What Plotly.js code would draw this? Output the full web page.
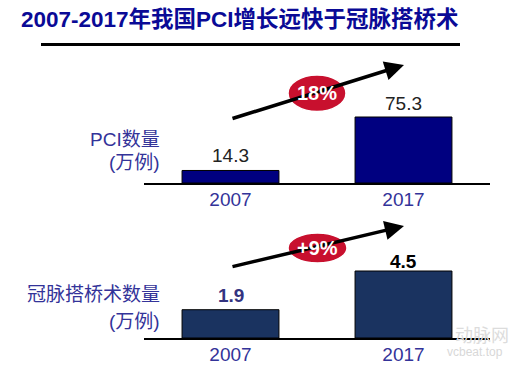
<!DOCTYPE html>
<html>
<head>
<meta charset="utf-8">
<script src="https://cdn.plot.ly/plotly-3.0.1.min.js"></script>
<style>html,body{margin:0;padding:0;background:#fff;}#chart{width:525px;height:371px;}</style>
</head>
<body>
<div id="chart"></div>
<script>
const years = ['2007', '2017'];
const pciValues = [14.3, 75.3];
const cabgValues = [1.9, 4.5];
const pciLabels = ['14.3', '75.3'];
const cabgLabels = ['1.9', '4.5'];
const pciGrowth = '18%';
const cabgGrowth = '+9%';
const titleText = '2007-2017年我国PCI增长远快于冠脉搭桥术';
const pciTitle = ['PCI数量', '(万例)'];
const cabgTitle = ['冠脉搭桥术数量', '(万例)'];

const W = 525, H = 371;
const px = x => x / W;
const py = y => 1 - y / H;
const FONT = '"Liberation Sans", Arial, "Noto Sans CJK SC", sans-serif';

const traces = [
  {type: 'bar', x: years, y: pciValues, xaxis: 'x', yaxis: 'y', width: 0.56,
   marker: {color: '#000080', line: {color: '#000000', width: 1}}, hoverinfo: 'none'},
  {type: 'bar', x: years, y: cabgValues, xaxis: 'x2', yaxis: 'y2', width: 0.56,
   marker: {color: '#1a3360', line: {color: '#000000', width: 1}}, hoverinfo: 'none'}
];

const xBase = {type: 'category', showline: true, linecolor: '#000', linewidth: 2, showgrid: false,
  zeroline: false, ticks: '', ticklabelstandoff: -2,
  tickfont: {family: FONT, size: 19, color: '#333399'}, range: [-0.5, 1.5], fixedrange: true};
const yBase = {showline: false, showgrid: false, zeroline: false, showticklabels: false, ticks: '', fixedrange: true};

const annotations = [];
annotations.push({xref: 'paper', yref: 'paper', x: px(19), y: py(19), xanchor: 'left', yanchor: 'middle',
  text: '<b>' + titleText + '</b>', showarrow: false, font: {family: FONT, size: 22.5, color: '#0a0a96'}});

// y-axis titles
const yt = (txt, y) => ({xref: 'paper', yref: 'paper', x: px(162), y: py(y), xanchor: 'right', yanchor: 'middle',
  text: txt, showarrow: false, font: {family: FONT, size: 19, color: '#333399'}});
annotations.push(yt(pciTitle[0], 139), yt(pciTitle[1], 162), yt(cabgTitle[0], 294), yt(cabgTitle[1], 321));

// value labels (x given as category index)
const pciShift = [15, 14];
pciValues.forEach((v, i) => annotations.push({xref: 'x', yref: 'y', x: years.indexOf(years[i]), y: v, yanchor: 'middle', yshift: pciShift[i],
  text: pciLabels[i], showarrow: false, font: {family: FONT, size: 19, color: '#222222'}}));
const cabgShift = [14, 10];
const cabgColors = ['#33337f', '#000000'];
cabgValues.forEach((v, i) => annotations.push({xref: 'x2', yref: 'y2', x: years.indexOf(years[i]), y: v, yanchor: 'middle', yshift: cabgShift[i],
  text: '<b>' + cabgLabels[i] + '</b>', showarrow: false, font: {family: FONT, size: 19, color: cabgColors[i]}}));

// arrows
const arrow = (x0, y0, x1, y1) => ({xref: 'paper', yref: 'paper', x: px(x1), y: py(y1), ax: x0 - x1, ay: y0 - y1,
  axref: 'pixel', ayref: 'pixel', showarrow: true, arrowhead: 2, arrowsize: 1.1, arrowwidth: 3.5, arrowcolor: '#000', text: ''});
annotations.push(arrow(231, 119, 404, 65), arrow(231, 267, 404, 226));

// growth labels
const growth = (txt, y) => ({xref: 'paper', yref: 'paper', x: px(317), y: py(y), xanchor: 'center', yanchor: 'middle',
  text: '<b>' + txt + '</b>', showarrow: false, font: {family: FONT, size: 20, color: '#ffffff'}});
annotations.push(growth(pciGrowth, 93), growth(cabgGrowth, 248));

// watermark
annotations.push({xref: 'paper', yref: 'paper', x: px(475), y: py(352), xanchor: 'center', yanchor: 'middle',
  text: 'vcbeat.top', showarrow: false, font: {family: FONT, size: 12, color: '#d8d8d8'}});
annotations.push({xref: 'paper', yref: 'paper', x: px(482), y: py(336), xanchor: 'center', yanchor: 'middle',
  text: '动脉网', showarrow: false, font: {family: FONT, size: 18, color: '#dcdcdc'}});

const shapes = [
  {type: 'line', xref: 'paper', yref: 'paper', x0: px(41), x1: px(460), y0: py(44.5), y1: py(44.5), line: {color: '#000', width: 3}},
  {type: 'circle', xref: 'paper', yref: 'paper', x0: px(288), x1: px(346), y0: py(75), y1: py(111.5), fillcolor: '#c8102e', line: {color: '#ffffff', width: 1.5}, layer: 'above'},
  {type: 'circle', xref: 'paper', yref: 'paper', x0: px(288), x1: px(347), y0: py(233), y1: py(263), fillcolor: '#c8102e', line: {color: '#ffffff', width: 1.5}, layer: 'above'}
];

const layout = {
  width: W, height: H, margin: {l: 0, r: 0, t: 0, b: 0},
  paper_bgcolor: '#fff', plot_bgcolor: 'rgba(0,0,0,0)', showlegend: false, bargap: 0,
  xaxis: Object.assign({}, xBase, {domain: [px(144), px(490)], anchor: 'y'}),
  yaxis: Object.assign({}, yBase, {domain: [py(183), py(83)], range: [0, 114.1], anchor: 'x'}),
  xaxis2: Object.assign({}, xBase, {domain: [px(144), px(490)], anchor: 'y2'}),
  yaxis2: Object.assign({}, yBase, {domain: [py(338), py(238)], range: [0, 6.716], anchor: 'x2'}),
  annotations: annotations, shapes: shapes
};

Plotly.newPlot('chart', traces, layout, {displayModeBar: false, staticPlot: true});
</script>
</body>
</html>
